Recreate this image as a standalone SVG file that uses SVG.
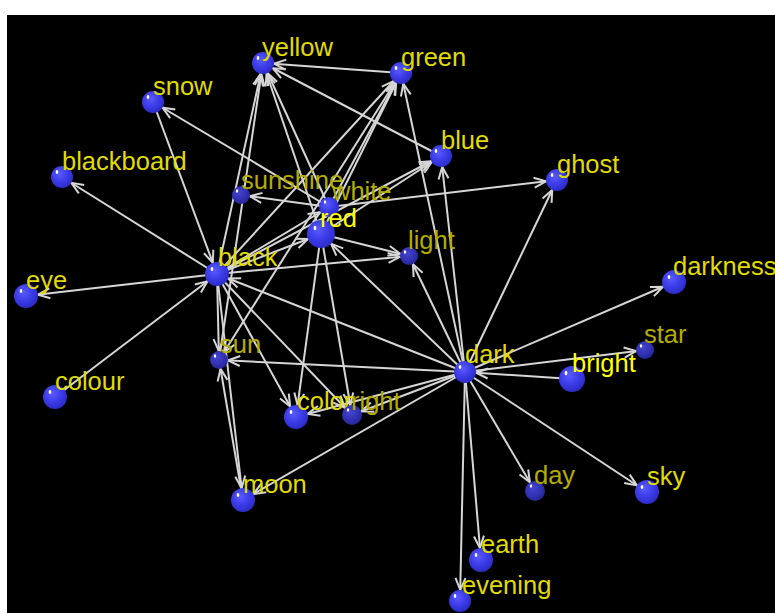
<svg xmlns="http://www.w3.org/2000/svg" width="775" height="613" viewBox="0 0 775 613">
<defs>
<radialGradient id="gb" cx="40%" cy="35%" r="65%"><stop offset="0" stop-color="#5a5aff"/><stop offset="0.6" stop-color="#3a3ae6"/><stop offset="1" stop-color="#2c2cc8"/></radialGradient>
<radialGradient id="gd" cx="40%" cy="35%" r="65%"><stop offset="0" stop-color="#4444d0"/><stop offset="0.6" stop-color="#3232b4"/><stop offset="1" stop-color="#26269a"/></radialGradient>
<marker id="a9" markerUnits="userSpaceOnUse" orient="auto" refX="9" refY="0" markerWidth="1" markerHeight="1" overflow="visible"><path class="ah" d="M-12,-5 L0,0 L-12,5"/></marker>
<marker id="a10" markerUnits="userSpaceOnUse" orient="auto" refX="10" refY="0" markerWidth="1" markerHeight="1" overflow="visible"><path class="ah" d="M-12,-5 L0,0 L-12,5"/></marker>
<marker id="a11" markerUnits="userSpaceOnUse" orient="auto" refX="11" refY="0" markerWidth="1" markerHeight="1" overflow="visible"><path class="ah" d="M-12,-5 L0,0 L-12,5"/></marker>
<marker id="a12" markerUnits="userSpaceOnUse" orient="auto" refX="12" refY="0" markerWidth="1" markerHeight="1" overflow="visible"><path class="ah" d="M-12,-5 L0,0 L-12,5"/></marker>
<marker id="a14" markerUnits="userSpaceOnUse" orient="auto" refX="14" refY="0" markerWidth="1" markerHeight="1" overflow="visible"><path class="ah" d="M-12,-5 L0,0 L-12,5"/></marker>
</defs>
<style>
.ah{fill:none;stroke:#d6d6d6;stroke-width:2}
#edges line{stroke:#d6d6d6;stroke-width:2}
.m9{marker-end:url(#a9)} .m10{marker-end:url(#a10)} .m11{marker-end:url(#a11)} .m12{marker-end:url(#a12)} .m14{marker-end:url(#a14)}
.nb{fill:url(#gb)} .nd{fill:url(#gd)}
.hl{fill:#ffffff}
text{font-family:"Liberation Sans",Arial,sans-serif;font-size:25.5px}
.ly{fill:#e0dc00} .lb{fill:#ffff00} .lo{fill:#b4ac00}
</style>
<rect x="0" y="0" width="775" height="613" fill="#ffffff"/>
<rect x="7" y="15" width="768" height="598" fill="#000000"/>
<g id="edges">
<line class="m11" x1="401" y1="73" x2="263" y2="63"/>
<line class="m11" x1="217" y1="274" x2="263" y2="63"/>
<line class="m11" x1="329" y1="207" x2="263" y2="63"/>
<line class="m11" x1="321" y1="234" x2="263" y2="63"/>
<line class="m11" x1="219" y1="360" x2="263" y2="63"/>
<line class="m11" x1="441" y1="156" x2="263" y2="63"/>
<line class="m11" x1="217" y1="274" x2="401" y2="73"/>
<line class="m11" x1="321" y1="234" x2="401" y2="73"/>
<line class="m11" x1="329" y1="207" x2="401" y2="73"/>
<line class="m11" x1="465" y1="372" x2="401" y2="73"/>
<line class="m11" x1="217" y1="274" x2="441" y2="156"/>
<line class="m11" x1="321" y1="234" x2="441" y2="156"/>
<line class="m11" x1="465" y1="372" x2="441" y2="156"/>
<line class="m11" x1="329" y1="207" x2="557" y2="180"/>
<line class="m11" x1="465" y1="372" x2="557" y2="180"/>
<line class="m9" x1="329" y1="207" x2="241" y2="195"/>
<line class="m11" x1="329" y1="207" x2="153" y2="102"/>
<line class="m12" x1="153" y1="102" x2="217" y2="274"/>
<line class="m11" x1="217" y1="274" x2="62" y2="177"/>
<line class="m12" x1="217" y1="274" x2="26" y2="296"/>
<line class="m12" x1="55" y1="397" x2="217" y2="274"/>
<line class="m9" x1="321" y1="234" x2="409" y2="256"/>
<line class="m9" x1="217" y1="274" x2="409" y2="256"/>
<line class="m9" x1="465" y1="372" x2="409" y2="256"/>
<line class="m14" x1="465" y1="372" x2="321" y2="234"/>
<line class="m14" x1="217" y1="274" x2="321" y2="234"/>
<line class="m10" x1="217" y1="274" x2="329" y2="207"/>
<line class="m12" x1="465" y1="372" x2="217" y2="274"/>
<line class="m9" x1="465" y1="372" x2="219" y2="360"/>
<line class="m9" x1="217" y1="274" x2="219" y2="360"/>
<line class="m9" x1="401" y1="73" x2="219" y2="360"/>
<line class="m9" x1="243" y1="500" x2="219" y2="360"/>
<line class="m12" x1="217" y1="274" x2="243" y2="500"/>
<line class="m12" x1="465" y1="372" x2="243" y2="500"/>
<line class="m12" x1="217" y1="274" x2="296" y2="417"/>
<line class="m12" x1="321" y1="234" x2="296" y2="417"/>
<line class="m12" x1="465" y1="372" x2="296" y2="417"/>
<line class="m10" x1="217" y1="274" x2="352" y2="415"/>
<line class="m10" x1="321" y1="234" x2="352" y2="415"/>
<line class="m10" x1="465" y1="372" x2="352" y2="415"/>
<line class="m12" x1="465" y1="372" x2="674" y2="282"/>
<line class="m9" x1="465" y1="372" x2="645" y2="350"/>
<line class="m11" x1="572" y1="379" x2="465" y2="372"/>
<line class="m10" x1="465" y1="372" x2="535" y2="491"/>
<line class="m12" x1="465" y1="372" x2="647" y2="492"/>
<line class="m12" x1="465" y1="372" x2="481" y2="560"/>
<line class="m11" x1="465" y1="372" x2="460" y2="601"/>
</g>
<g id="n-yellow"><circle class="nb" cx="263" cy="63" r="11"/><ellipse class="hl" cx="258" cy="58" rx="1.3" ry="2"/><text class="ly" x="262" y="56">yellow</text></g>
<g id="n-green"><circle class="nb" cx="401" cy="73" r="11"/><ellipse class="hl" cx="396" cy="68" rx="1.3" ry="2"/><text class="ly" x="401" y="66">green</text></g>
<g id="n-snow"><circle class="nb" cx="153" cy="102" r="11"/><ellipse class="hl" cx="148" cy="97" rx="1.3" ry="2"/><text class="ly" x="153" y="95">snow</text></g>
<g id="n-blue"><circle class="nb" cx="441" cy="156" r="11"/><ellipse class="hl" cx="436" cy="151" rx="1.3" ry="2"/><text class="ly" x="441" y="149">blue</text></g>
<g id="n-blackboard"><circle class="nb" cx="62" cy="177" r="11"/><ellipse class="hl" cx="57" cy="172" rx="1.3" ry="2"/><text class="ly" x="62" y="170">blackboard</text></g>
<g id="n-ghost"><circle class="nb" cx="557" cy="180" r="11"/><ellipse class="hl" cx="552" cy="175" rx="1.3" ry="2"/><text class="ly" x="557" y="173">ghost</text></g>
<g id="n-sunshine"><circle class="nd" cx="241" cy="195" r="9"/><ellipse class="hl" cx="237" cy="191" rx="1.2" ry="1.8"/><text class="lo" x="241" y="189">sunshine</text></g>
<g id="n-white"><circle class="nb" cx="329" cy="207" r="10"/><ellipse class="hl" cx="325" cy="202" rx="1.2" ry="1.8"/><text class="lo" x="332" y="200">white</text></g>
<g id="n-red"><circle class="nb" cx="321" cy="234" r="14"/><ellipse class="hl" cx="315" cy="228" rx="1.4" ry="2.2"/><text class="lb" x="320" y="227">red</text></g>
<g id="n-light"><circle class="nd" cx="409" cy="256" r="9"/><ellipse class="hl" cx="405" cy="252" rx="1.2" ry="1.8"/><text class="lo" x="408" y="249">light</text></g>
<g id="n-black"><circle class="nb" cx="217" cy="274" r="12"/><ellipse class="hl" cx="212" cy="269" rx="1.3" ry="2"/><text class="ly" x="218" y="266">black</text></g>
<g id="n-darkness"><circle class="nb" cx="674" cy="282" r="12"/><ellipse class="hl" cx="669" cy="277" rx="1.3" ry="2"/><text class="ly" x="673" y="275">darkness</text></g>
<g id="n-eye"><circle class="nb" cx="26" cy="296" r="12"/><ellipse class="hl" cx="21" cy="291" rx="1.3" ry="2"/><text class="ly" x="26" y="289">eye</text></g>
<g id="n-star"><circle class="nd" cx="645" cy="350" r="9"/><ellipse class="hl" cx="641" cy="346" rx="1.2" ry="1.8"/><text class="lo" x="644" y="343">star</text></g>
<g id="n-sun"><circle class="nd" cx="219" cy="360" r="9"/><ellipse class="hl" cx="215" cy="356" rx="1.2" ry="1.8"/><text class="lo" x="220" y="353">sun</text></g>
<g id="n-dark"><circle class="nb" cx="465" cy="372" r="11"/><ellipse class="hl" cx="460" cy="367" rx="1.3" ry="2"/><text class="ly" x="465" y="363">dark</text></g>
<g id="n-bright"><circle class="nb" cx="572" cy="379" r="13"/><ellipse class="hl" cx="566" cy="373" rx="1.4" ry="2.2"/><text class="lb" x="572" y="372">bright</text></g>
<g id="n-colour"><circle class="nb" cx="55" cy="397" r="12"/><ellipse class="hl" cx="50" cy="392" rx="1.3" ry="2"/><text class="ly" x="55" y="390">colour</text></g>
<g id="n-color"><circle class="nb" cx="296" cy="417" r="12"/><ellipse class="hl" cx="291" cy="412" rx="1.3" ry="2"/><text class="ly" x="297" y="410">color</text></g>
<g id="n-night"><circle class="nd" cx="352" cy="415" r="10"/><ellipse class="hl" cx="348" cy="410" rx="1.2" ry="1.8"/><text class="lo" x="351" y="410">right</text></g>
<g id="n-day"><circle class="nd" cx="535" cy="491" r="10"/><ellipse class="hl" cx="531" cy="486" rx="1.2" ry="1.8"/><text class="lo" x="534" y="484">day</text></g>
<g id="n-sky"><circle class="nb" cx="647" cy="492" r="12"/><ellipse class="hl" cx="642" cy="487" rx="1.3" ry="2"/><text class="ly" x="647" y="485">sky</text></g>
<g id="n-moon"><circle class="nb" cx="243" cy="500" r="12"/><ellipse class="hl" cx="238" cy="495" rx="1.3" ry="2"/><text class="ly" x="243" y="493">moon</text></g>
<g id="n-earth"><circle class="nb" cx="481" cy="560" r="12"/><ellipse class="hl" cx="476" cy="555" rx="1.3" ry="2"/><text class="ly" x="481" y="553">earth</text></g>
<g id="n-evening"><circle class="nb" cx="460" cy="601" r="11"/><ellipse class="hl" cx="455" cy="596" rx="1.3" ry="2"/><text class="ly" x="462" y="594">evening</text></g>
</svg>
